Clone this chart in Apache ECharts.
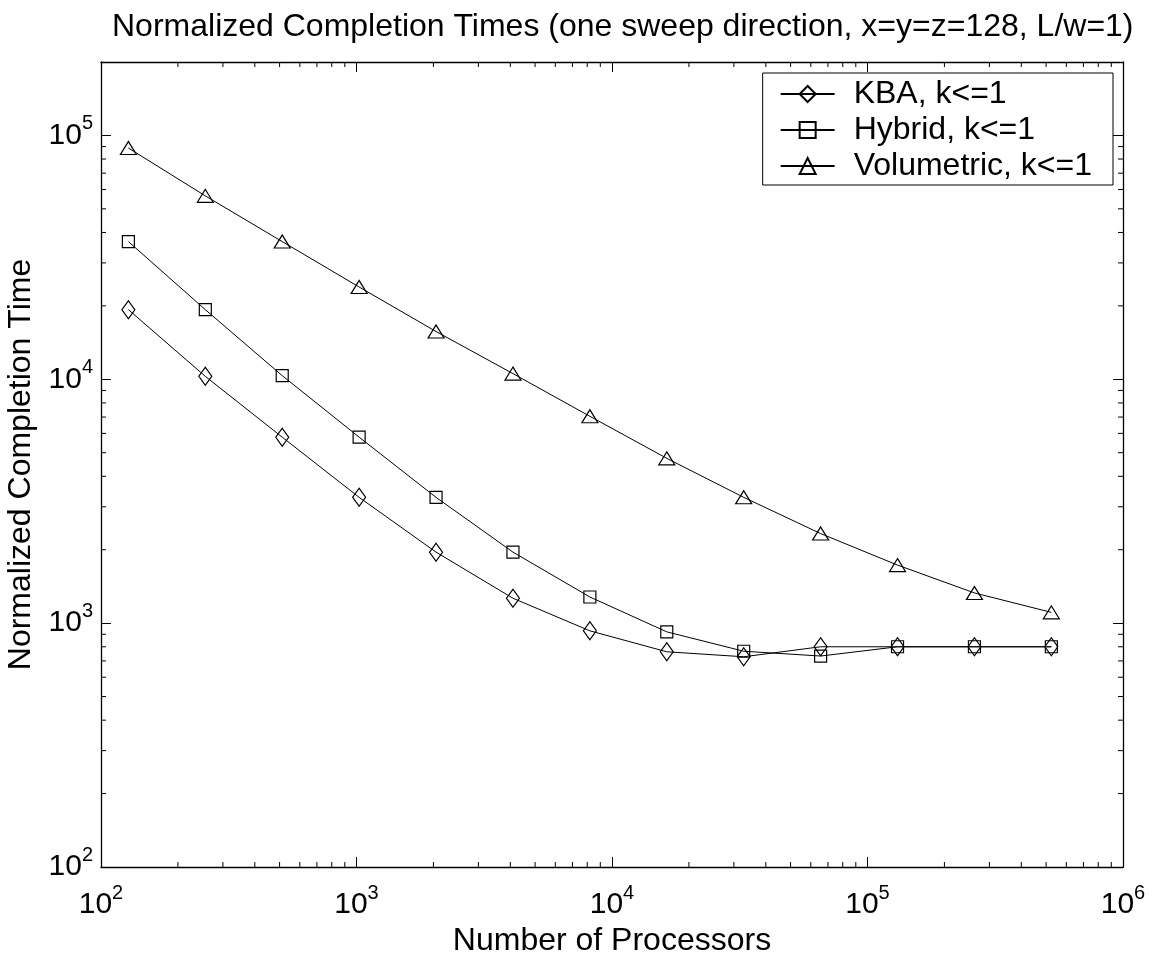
<!DOCTYPE html>
<html><head><meta charset="utf-8">
<script src="https://cdn.jsdelivr.net/npm/echarts@6/dist/echarts.min.js"></script>
<style>html,body{margin:0;padding:0;background:#fff}#c{width:1152px;height:955px}</style>
</head><body><div id="c"></div>
<script>
const processors = [128,256,512,1024,2048,4096,8192,16384,32768,65536,131072,262144,524288];
const kba        = [19300,10280,5790,3280,1955,1265,930,763,728,800,800,800,800];
const hybrid     = [36700,19300,10350,5790,3280,1955,1280,921,767,733,800,800,800];
const volumetric = [88800,56500,36700,23900,15700,10550,7050,4740,3280,2330,1730,1330,1107];
const seriesNames = ['KBA, k<=1','Hybrid, k<=1','Volumetric, k<=1'];
const xRange = [100, 1000000];
const yRange = [100, 200000];
const titleText = 'Normalized Completion Times (one sweep direction, x=y=z=128, L/w=1)';
const xName = 'Number of Processors';
const yName = 'Normalized Completion Time';

const FONT = 'Liberation Sans, Arial, Helvetica, sans-serif';
const chart = echarts.init(document.getElementById('c'), null, {renderer:'canvas'});
function isDecade(v){ const e = Math.log10(v); return Math.abs(e - Math.round(e)) < 1e-6; }
function fmt(v){ if(!isDecade(v)) return ''; return '{b|10}{s|' + Math.round(Math.log10(v)) + '}'; }
const rich = {
  b:{fontFamily:FONT,fontSize:30,color:'#000',lineHeight:44},
  s:{fontFamily:FONT,fontSize:20,color:'#000',verticalAlign:'top',lineHeight:20}
};
const axisLine = {show:true, lineStyle:{color:'#000', width:1.3}};
const tick = {show:true, inside:true, length:10, lineStyle:{color:'#000', width:1}};
function pairs(vals){ return processors.map((p,i)=>[p, vals[i]]); }
const mk = (name, vals, symbol, size) => ({
  name, type:'line', data:pairs(vals), symbol, symbolSize:size,
  showSymbol:true, silent:true,
  itemStyle:{color:'rgba(0,0,0,0)', borderColor:'#000', borderWidth:1.2},
  lineStyle:{color:'#000', width:1},
  emphasis:{disabled:true}
});

chart.setOption({
  animation:false,
  backgroundColor:'#fff',
  title:{text:titleText, left:107, top:6, textStyle:{fontFamily:FONT, fontSize:32, fontWeight:'normal', color:'#000'}},
  grid:{left:101, right:29, top:62, bottom:88, containLabel:false, outerBoundsMode:'none'},
  legend:{
    orient:'vertical', right:39, top:73, itemWidth:54, itemHeight:20, itemGap:4,
    padding:[5,21,3,17], borderColor:'#000', borderWidth:1, backgroundColor:'#fff',
    selectedMode:false,
    textStyle:{fontFamily:FONT, fontSize:32, color:'#000', padding:[0,0,0,14]},
    data:seriesNames
  },
  xAxis:[
    {type:'log', min:xRange[0], max:xRange[1], position:'bottom', axisLine, axisTick:tick,
     splitLine:{show:false},
     axisLabel:{formatter:fmt, rich, margin:16},
     name:xName, nameLocation:'middle', nameGap:55,
     nameTextStyle:{fontFamily:FONT, fontSize:32, color:'#000'}},
    {type:'log', min:xRange[0], max:xRange[1], position:'top', axisLine, axisTick:tick,
     splitLine:{show:false}, axisLabel:{show:false}}
  ],
  yAxis:[
    {type:'log', min:yRange[0], max:yRange[1], position:'left', axisLine, axisTick:tick,
     splitLine:{show:false},
     axisLabel:{formatter:fmt, rich, margin:8},
     name:yName, nameLocation:'middle', nameGap:46,
     nameTextStyle:{fontFamily:FONT, fontSize:32, color:'#000'}},
    {type:'log', min:yRange[0], max:yRange[1], position:'right', axisLine, axisTick:tick,
     splitLine:{show:false}, axisLabel:{show:false}}
  ],
  series:[
    mk(seriesNames[0], kba, 'diamond', [13,18]),
    mk(seriesNames[1], hybrid, 'rect', 12),
    mk(seriesNames[2], volumetric, 'triangle', [16,13])
  ]
});

// minor ticks (2..9 x 10^d) on all four sides, positioned through the axis scales
const g = [];
const yTop = chart.convertToPixel({yAxisIndex:0}, yRange[1]);
const yBot = chart.convertToPixel({yAxisIndex:0}, yRange[0]);
const xL = chart.convertToPixel({xAxisIndex:0}, xRange[0]);
const xR = chart.convertToPixel({xAxisIndex:0}, xRange[1]);
const ML = 5;
for (let d = 2; d < 6; d++) {
  for (let k = 2; k <= 9; k++) {
    const v = k * Math.pow(10, d);
    if (v > xRange[0] && v < xRange[1]) {
      const x = chart.convertToPixel({xAxisIndex:0}, v);
      g.push({type:'line', shape:{x1:x, y1:yBot, x2:x, y2:yBot-ML}, style:{stroke:'#000', lineWidth:1}, silent:true});
      g.push({type:'line', shape:{x1:x, y1:yTop, x2:x, y2:yTop+ML}, style:{stroke:'#000', lineWidth:1}, silent:true});
    }
    if (v > yRange[0] && v < yRange[1]) {
      const y = chart.convertToPixel({yAxisIndex:0}, v);
      g.push({type:'line', shape:{x1:xL, y1:y, x2:xL+ML, y2:y}, style:{stroke:'#000', lineWidth:1}, silent:true});
      g.push({type:'line', shape:{x1:xR, y1:y, x2:xR-ML, y2:y}, style:{stroke:'#000', lineWidth:1}, silent:true});
    }
  }
}
chart.setOption({graphic:g});
</script>
</body></html>
